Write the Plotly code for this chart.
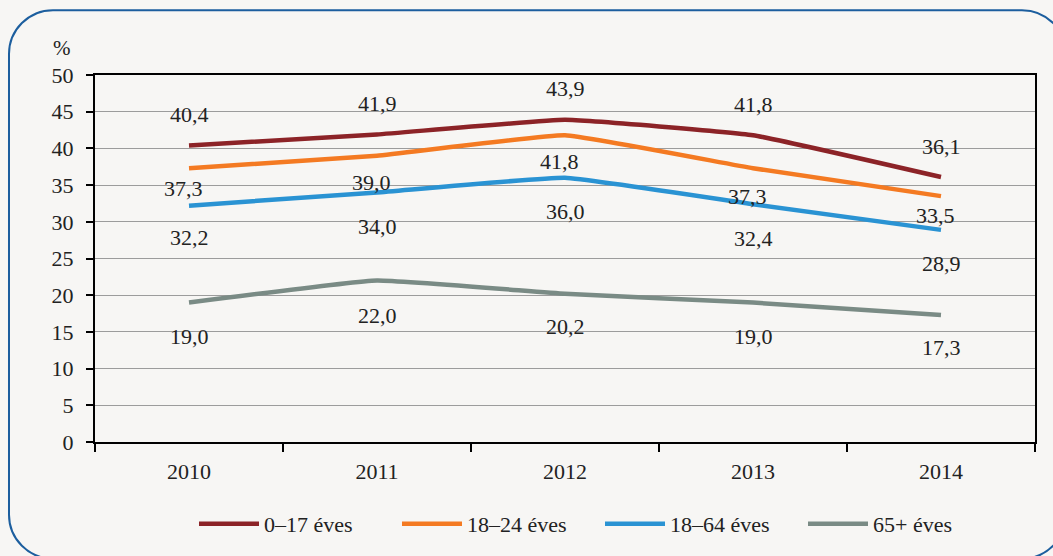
import plotly.graph_objects as go

years = ["2010", "2011", "2012", "2013", "2014"]
series_names = ["0–17 éves", "18–24 éves", "18–64 éves", "65+ éves"]
v_0_17 = [40.4, 41.9, 43.9, 41.8, 36.1]
v_18_24 = [37.3, 39.0, 41.8, 37.3, 33.5]
v_18_64 = [32.2, 34.0, 36.0, 32.4, 28.9]
v_65 = [19.0, 22.0, 20.2, 19.0, 17.3]
y_ticks = [0, 5, 10, 15, 20, 25, 30, 35, 40, 45, 50]

series_values = [v_0_17, v_18_24, v_18_64, v_65]
colors = ["#8C2327", "#F47A22", "#2A93D3", "#7A8B85"]
# label offsets in pixels (positive = down on screen)
label_dy = [
    [-31, -31, -31, -31, -31],
    [20, 27, 26, 28, 19],
    [32, 34, 34, 34, 34],
    [34, 35, 33, 34, 32],
]
label_dx = [0, -6, 0, 0]

W, H = 1053, 556
L, R, T, B = 95, 1035, 75, 443

fig = go.Figure()
for name, vals, col in zip(series_names, series_values, colors):
    fig.add_trace(go.Scatter(
        x=years, y=vals, name=name, mode="lines",
        line=dict(color=col, width=4.5, shape="spline", smoothing=0.3),
        hoverinfo="skip",
    ))

font_family = "Liberation Serif, Times New Roman, serif"
FS = 22
annotations = []
for si, vals in enumerate(series_values):
    for xi, v in enumerate(vals):
        annotations.append(dict(
            x=xi, y=v, xref="x", yref="y",
            text=f"{v:.1f}".replace(".", ","), showarrow=False,
            yshift=-label_dy[si][xi], xshift=label_dx[si],
            font=dict(size=FS, color="#222222", family=font_family),
        ))

annotations.append(dict(
    x=(62 - L) / (R - L), y=(B - 48) / (B - T), xref="paper", yref="paper",
    xanchor="center", yanchor="middle",
    text="%", showarrow=False, font=dict(size=21, color="#222222", family=font_family),
))


def P(x, y):
    return f"{(x - L) / (R - L):.5f},{(B - y) / (B - T):.5f}"


x0, y0, x1, y1, r = 9, 10, 1066, 560, 44
k = 0.5523 * r
path = (
    f"M{P(x0 + r, y0)} L{P(x1 - r, y0)} "
    f"C{P(x1 - r + k, y0)} {P(x1, y0 + r - k)} {P(x1, y0 + r)} "
    f"L{P(x1, y1 - r)} "
    f"C{P(x1, y1 - r + k)} {P(x1 - r + k, y1)} {P(x1 - r, y1)} "
    f"L{P(x0 + r, y1)} "
    f"C{P(x0 + r - k, y1)} {P(x0, y1 - r + k)} {P(x0, y1 - r)} "
    f"L{P(x0, y0 + r)} "
    f"C{P(x0, y0 + r - k)} {P(x0 + r - k, y0)} {P(x0 + r, y0)} Z"
)

fig.update_layout(
    width=W, height=H,
    margin=dict(l=L, r=W - R, t=T, b=H - B),
    paper_bgcolor="#F7F6F4", plot_bgcolor="#F7F6F4",
    font=dict(family=font_family, size=FS, color="#222222"),
    showlegend=True,
    legend=dict(
        orientation="h", x=(194 - L) / (R - L), xanchor="left",
        y=(B - 524) / (B - T), yanchor="middle",
        font=dict(size=FS, color="#222222", family=font_family),
        itemwidth=60, entrywidth=128, bgcolor="rgba(0,0,0,0)",
    ),
    annotations=annotations,
    shapes=[dict(type="path", xref="paper", yref="paper", path=path,
                 line=dict(color="#1C5E9E", width=2), layer="above")],
)
fig.update_xaxes(
    type="category", range=[-0.5, 4.5], showline=True, mirror=True, linecolor="black", linewidth=2,
    ticks="outside", tickson="boundaries", ticklen=8, tickwidth=1.5, tickcolor="black",
    showgrid=False, ticklabelstandoff=9,
    tickfont=dict(size=FS, family=font_family, color="#222222"),
)
fig.update_yaxes(
    range=[0, 50], tickvals=y_ticks, showline=True, mirror=True, linecolor="black",
    linewidth=2, ticks="outside", ticklen=7, tickwidth=1.5, tickcolor="black",
    showgrid=True, gridcolor="#9C9C9C", gridwidth=1, zeroline=False,
    ticklabelstandoff=8,
    tickfont=dict(size=FS, family=font_family, color="#222222"),
)

fig.write_html("out.html", config={"displayModeBar": False},
               post_script="document.body.style.margin='0';document.body.style.overflow='hidden';")
